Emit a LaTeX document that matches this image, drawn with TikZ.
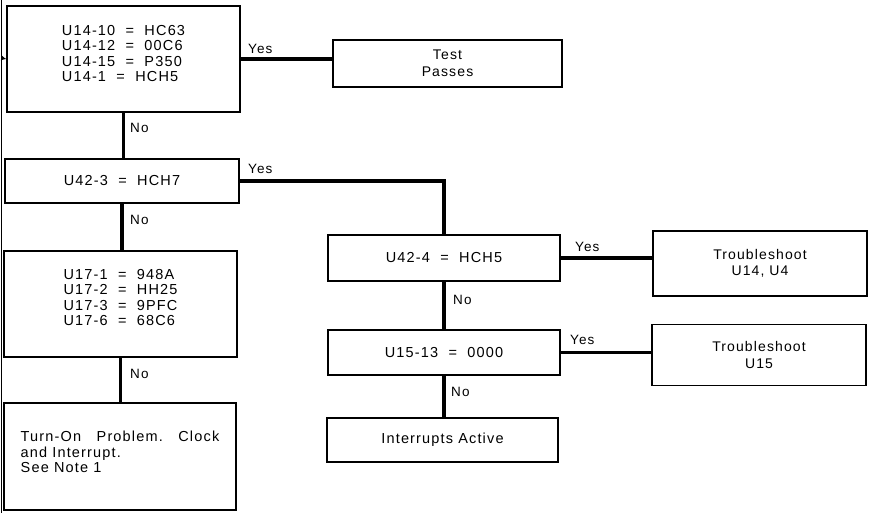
\documentclass[tikz,border=0pt]{standalone}
\usepackage{fontspec}
\setmainfont{Liberation Sans}[LetterSpace=8]
\usetikzlibrary{arrows.meta}
\newcommand{\liftup}[2]{\raisebox{0pt}[\height][\dimexpr\depth+#1\relax]{\begin{tabular}{@{}l@{}}#2\end{tabular}}}
\tikzset{
  box/.style={draw, line width=1.4pt, inner sep=0pt, align=left,
    font=\fontsize{14.5}{15.5}\selectfont},
  cbox/.style={box, align=center},
  conn/.style={line width=3.4pt},
  lab/.style={inner sep=0pt, font=\fontsize{13.5}{15}\selectfont},
}
\begin{document}
\begin{tikzpicture}[x=1pt,y=-1pt]
\useasboundingbox (0,0) rectangle (872,513);
% page-edge line
\coordinate (topedge) at (1.5,0);
\coordinate (botedge) at (1.5,513);
\draw[line width=0.8pt] (topedge) -- (botedge);
% boxes
\node[box, minimum width=233pt, minimum height=106pt] (b1) at (123.5,59)
  {\liftup{7pt}{U14-10\ \ =\ \ HC63\\U14-12\ \ =\ \ 00C6\\U14-15\ \ =\ \ P350\\U14-1\ \ =\ \ HCH5}};
\node[cbox, minimum width=229pt, minimum height=47pt, font=\fontsize{14}{17}\selectfont] (test) at (447.5,63.5)
  {Test\\Passes};
\node[box, minimum width=234pt, minimum height=44pt] (b2) at (122,181)
  {U42-3\ \ =\ \ HCH7};
\node[box, minimum width=233pt, minimum height=106pt] (b3) at (120.5,304)
  {\liftup{9pt}{U17-1\ \ =\ \ 948A\\U17-2\ \ =\ \ HH25\\U17-3\ \ =\ \ 9PFC\\U17-6\ \ =\ \ 68C6}};
\node[box, minimum width=232pt, minimum height=107pt] (b4) at (120,456.5)
  {\liftup{5pt}{Turn-On\ \ \ Problem.\ \ \ Clock\\and Interrupt.\\See Note 1}};
\node[cbox, minimum width=232pt, minimum height=46pt] (c1) at (444,258)
  {U42-4\ \ =\ \ HCH5};
\node[cbox, minimum width=214pt, minimum height=65pt, font=\fontsize{14}{16.5}\selectfont] (t1) at (760,263.5)
  {Troubleshoot\\U14, U4};
\node[cbox, minimum width=232pt, minimum height=45pt] (c2) at (444,352.5)
  {U15-13\ \ =\ \ 0000};
\node[cbox, minimum width=214pt, minimum height=61pt, font=\fontsize{14}{16.5}\selectfont] (t2) at (759,355)
  {Troubleshoot\\U15};
\node[cbox, minimum width=231pt, minimum height=44pt] (c3) at (442.5,440)
  {Interrupts Active};
% entry arrow
\coordinate (entry) at (1.5,58);
\draw[line width=0.8pt, -{Latex[length=5pt,width=5pt]}] (entry) -- (b1.west);
% connectors
\draw[conn] (b1.east) -- (b1.east -| test.west);
\draw[conn] (b1.south) -- (b1.south |- b2.north);
\draw[conn] (b2.east) -| (c1.north);
\draw[conn] (b2.south) -- (b2.south |- b3.north);
\draw[conn] (b3.south) -- (b3.south |- b4.north);
\draw[conn] (c1.east) -- (c1.east -| t1.west);
\draw[conn] (c1.south) -- (c1.south |- c2.north);
\draw[conn] (c2.east) -- (c2.east -| t2.west);
\draw[conn] (c2.south) -- (c2.south |- c3.north);
% labels
\node[lab, anchor=south west] (y1) at (248,54) {Yes};
\node[lab, anchor=west] (n1) at (130,128) {No};
\node[lab, anchor=south west] (y2) at (248,174) {Yes};
\node[lab, anchor=west] (n2) at (130,220) {No};
\node[lab, anchor=west] (n3) at (130,374) {No};
\node[lab, anchor=south west] (y3) at (575,252) {Yes};
\node[lab, anchor=west] (n4) at (453,300) {No};
\node[lab, anchor=south west] (y4) at (570,345) {Yes};
\node[lab, anchor=west] (n5) at (451,392) {No};
\end{tikzpicture}
\end{document}
